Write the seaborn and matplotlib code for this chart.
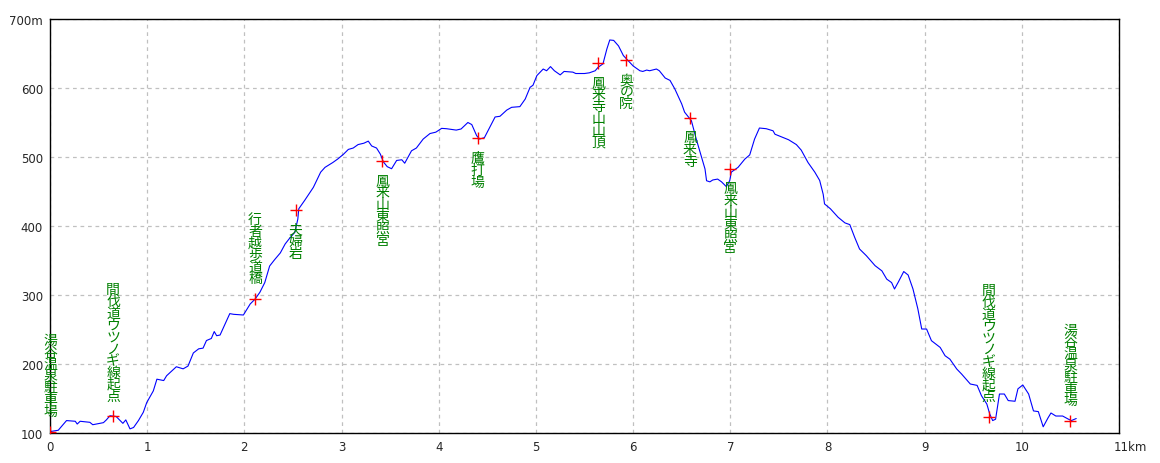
import matplotlib
matplotlib.use("Agg")
import matplotlib.pyplot as plt
import matplotlib.transforms as mtransforms
import seaborn as sns
import pandas as pd

# elevation profile (km, m)
dist_km = [0, 0.085, 0.17, 0.26, 0.28, 0.31, 0.41, 0.44, 0.55, 0.58, 0.617, 0.68, 0.73, 0.75, 0.78,
           0.823, 0.86, 0.91, 0.96, 0.995, 1.063, 1.1, 1.17, 1.2, 1.30, 1.37, 1.42, 1.475, 1.53, 1.575,
           1.61, 1.66, 1.69, 1.715, 1.75, 1.85, 1.89, 1.99, 2.06, 2.11, 2.16, 2.21, 2.26, 2.31, 2.37,
           2.42, 2.47, 2.52, 2.55, 2.56, 2.62, 2.71, 2.785, 2.83, 2.91, 2.96, 3.02, 3.07, 3.12, 3.17,
           3.23, 3.275, 3.31, 3.36, 3.40, 3.43, 3.47, 3.515, 3.567, 3.62, 3.65, 3.72, 3.77, 3.84, 3.91,
           3.97, 4.03, 4.08, 4.18, 4.23, 4.30, 4.34, 4.39, 4.42, 4.47, 4.58, 4.63, 4.70, 4.75, 4.835,
           4.89, 4.94, 4.97, 5.01, 5.075, 5.11, 5.15, 5.19, 5.25, 5.29, 5.38, 5.41, 5.50, 5.55, 5.61,
           5.64, 5.69, 5.73, 5.76, 5.80, 5.85, 5.90, 5.96, 6.00, 6.07, 6.10, 6.14, 6.17, 6.24, 6.27,
           6.33, 6.38, 6.43, 6.50, 6.53, 6.60, 6.65, 6.70, 6.74, 6.756, 6.79, 6.82, 6.87, 6.91, 6.96,
           6.995, 7.01, 7.08, 7.15, 7.20, 7.25, 7.30, 7.37, 7.44, 7.46, 7.53, 7.60, 7.68, 7.73, 7.80,
           7.87, 7.92, 7.956, 7.97, 8.03, 8.11, 8.18, 8.23, 8.28, 8.33, 8.40, 8.49, 8.56, 8.61, 8.66,
           8.69, 8.73, 8.785, 8.83, 8.88, 8.93, 8.97, 9.02, 9.07, 9.16, 9.21, 9.26, 9.33, 9.38, 9.47,
           9.54, 9.585, 9.64, 9.67, 9.70, 9.73, 9.77, 9.82, 9.86, 9.93, 9.96, 10.01, 10.07, 10.12, 10.17,
           10.22, 10.27, 10.30, 10.35, 10.42, 10.48, 10.51, 10.56]
elev_m = [102, 104, 118, 117, 113, 117, 115.5, 112, 115, 119, 125, 124, 117, 114, 119,
          106, 108, 118, 130, 144, 161, 178, 176, 183, 196, 193, 197, 216, 222, 223,
          234, 237, 247, 241, 242, 273, 272, 271, 287, 294, 304, 318, 342, 351, 361,
          374, 383, 391, 410, 425, 437, 456, 478, 485, 492, 497, 504, 511, 513, 518,
          520, 523, 516, 513, 504, 493, 486, 483, 495, 496, 491, 509, 513, 526, 534,
          536, 541.5, 541, 539, 540.6, 550, 547, 531, 526, 528, 558, 559, 568, 572, 573,
          584, 601, 604, 618, 627.5, 625, 631, 625, 619, 624, 623, 621, 621, 622, 625,
          630, 635, 656.5, 669.6, 669, 661, 647, 638, 632, 625, 624, 626, 625, 627.5, 625,
          614.5, 611, 598.5, 577, 565, 552.6, 526, 502, 482.6, 465.6, 464, 466.7, 468, 464, 457,
          466, 478, 485, 497, 503, 526, 542, 541, 538, 533, 529, 525, 518, 510, 492,
          478, 466, 446, 432, 425, 412.6, 404.5, 402, 383.6, 366.7, 357, 342.5, 335, 323, 318,
          308.7, 319, 334, 329, 308.7, 280, 250.7, 250.7, 233.8, 224, 212, 207, 192.8, 185.5, 171,
          169, 154, 142, 127.5, 118, 120, 156.5, 156.5, 147, 146, 164, 169.6, 156.5, 132, 131,
          109, 122, 129, 124.6, 124.6, 120, 118, 121]

# waypoints
wp_names = ["湯谷温泉駐車場", "間伐道ウツノギ線起点", "行者越歩道橋", "夫婦岩", "鳳来山東照宮", "鷹打場",
            "鳳来寺山山頂", "奥の院", "鳳来寺", "鳳来山東照宮", "間伐道ウツノギ線起点", "湯谷温泉駐車場"]
wp_km = [0, 0.65, 2.11, 2.53, 3.42, 4.40, 5.64, 5.93, 6.585, 7.00, 9.66, 10.50]
wp_elev = [102, 124, 294, 423, 494, 527, 636, 641, 557, 483, 123, 117]
wp_above = [True, True, True, False, False, False, False, False, False, False, True, True]

x_ticks = list(range(0, 12))
x_labels = [str(i) for i in range(0, 11)] + ["11km"]
y_ticks = [100, 200, 300, 400, 500, 600, 700]
y_labels = ["100", "200", "300", "400", "500", "600", "700m"]

profile = pd.DataFrame({"km": dist_km, "m": elev_m})
points = pd.DataFrame({"km": wp_km, "m": wp_elev})

sns.set_style("white")
plt.rcParams["font.family"] = ["DejaVu Sans"]

fig = plt.figure(figsize=(11.6, 4.64), dpi=100)
ax = fig.add_axes([50 / 1160, 30 / 464, 1069 / 1160, 414 / 464])

sns.lineplot(data=profile, x="km", y="m", sort=False, estimator=None,
             color="#0000ff", linewidth=0.8, ax=ax)
sns.scatterplot(data=points, x="km", y="m", marker="+", color="#ff0000",
                s=80, linewidth=1, ax=ax, zorder=3)

for name, xk, ym, above in zip(wp_names, wp_km, wp_elev, wp_above):
    ax.annotate("\n".join(name), xy=(xk, ym), xytext=(0, 10 if above else -9),
                textcoords="offset points", ha="center",
                va="bottom" if above else "top", color="#008000",
                fontsize=10, linespacing=0.8,
                family=["Noto Sans CJK JP", "DejaVu Sans"])

ax.set_xlim(0, 11)
ax.set_ylim(100, 700)
ax.set_xticks(x_ticks)
ax.set_xticklabels(x_labels)
ax.set_yticks(y_ticks)
ax.set_yticklabels(y_labels)
ax.tick_params(length=0, labelsize=8.5, pad=5)
ax.set_xlabel("")
ax.set_ylabel("")
ax.grid(True, color="#c0c0c0", linestyle=(0, (3, 3)), linewidth=0.9)
for s in ax.spines.values():
    s.set_color("black")
    s.set_linewidth(1)

# "11km" sits a little right of its tick in the reference
last = ax.get_xticklabels()[-1]
last.set_ha("left")
last.set_transform(last.get_transform() + mtransforms.ScaledTranslation(-5 / 100, 0, fig.dpi_scale_trans))

fig.savefig("out.png", dpi=100)
